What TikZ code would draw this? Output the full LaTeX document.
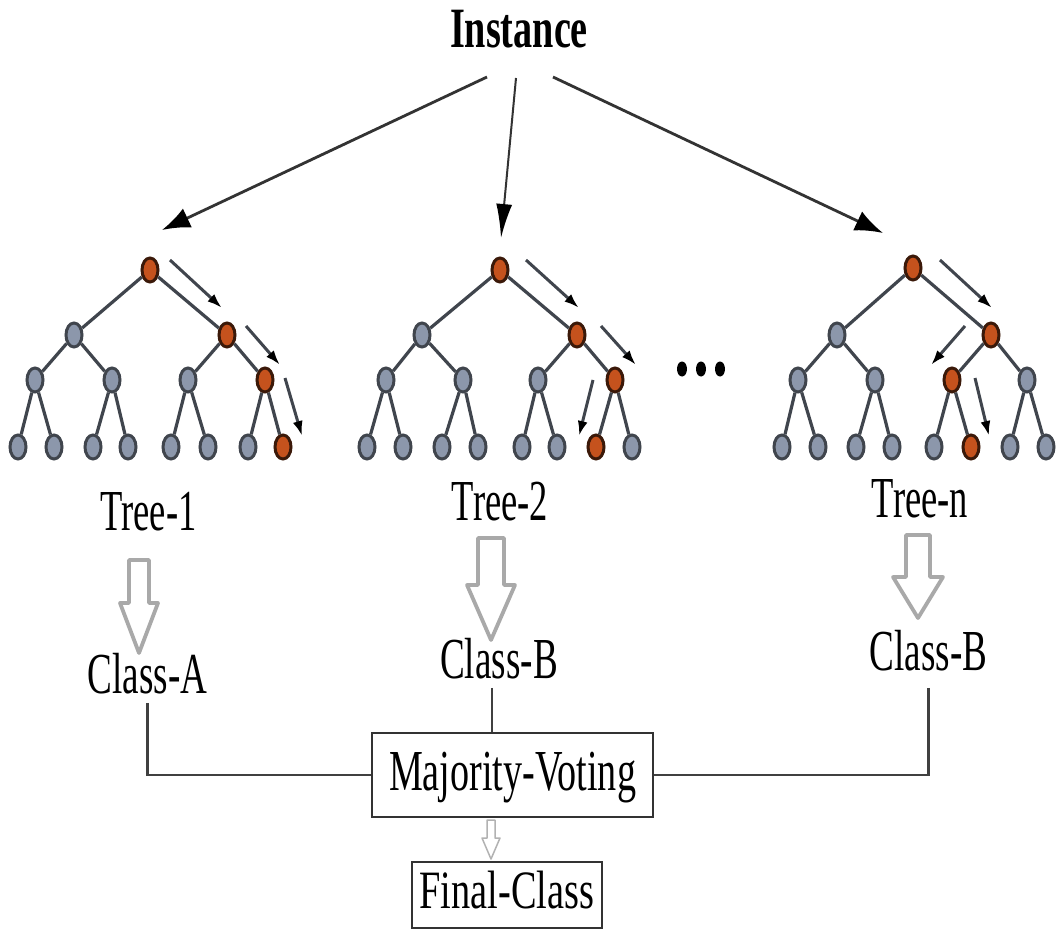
\documentclass[tikz,border=0pt]{standalone}
\usepackage{fontspec}
\setmainfont{Liberation Serif}
\usetikzlibrary{shapes.geometric,arrows.meta,calc}
\definecolor{nodeblue}{HTML}{8C97AB}
\definecolor{nodeorange}{HTML}{C5521D}
\definecolor{edgegray}{HTML}{40454D}
\definecolor{hollowgray}{HTML}{A9A9A9}
\newcommand\sqz[2][0.64]{\scalebox{#1}[1]{#2}}
\newcommand\mktree[2]{%
  \foreach \i/\x/\y/\st in {#2} {\node[\st] (#1-\i) at (\x,\y) {};}
  \foreach \p/\c in {1/2,1/3,2/4,2/5,3/6,3/7,4/8,4/9,5/10,5/11,6/12,6/13,7/14,7/15}
    {\draw[tedge] (#1-\p) -- (#1-\c);}
}
\newcommand\hollowarrow[7][hollowline]{%
  \draw[#1] (#2-#6,#3) -- (#2+#6,#3) -- (#2+#6,#4) -- (#2+#7,#4) -- (#2,#5)
    -- (#2-#7,#4) -- (#2-#6,#4) -- cycle;
}
\begin{document}
\begin{tikzpicture}[x=1pt,y=-1pt,
  tnode/.style={ellipse, minimum width=16pt, minimum height=24pt, inner sep=0pt,
    line width=3pt, draw=edgegray, fill=nodeblue},
  onode/.style={tnode, fill=nodeorange, draw=black!70!nodeorange},
  tedge/.style={line width=3.2pt, draw=edgegray},
  walk/.style={line width=3pt, draw=edgegray, -{Latex[length=15pt,width=10pt,color=black]}},
  bigarrow/.style={line width=2.8pt, draw=black!80, -{Latex[length=28pt,width=21pt,color=black]}},
  midarrow/.style={line width=2pt, draw=black!80, -{Latex[length=34pt,width=16pt,color=black]}},
  lbl/.style={font=\fontsize{58}{60}\selectfont, inner sep=0pt, anchor=base},
  box/.style={draw=black!80, line width=2.6pt, fill=white, inner sep=0pt},
  conn/.style={line width=2.2pt, draw=black!75},
  hollowline/.style={line width=3.8pt, draw=hollowgray, fill=white, line join=round},
  thinhollow/.style={line width=1.5pt, draw=black!30, fill=white, line join=round},
  dot/.style={ellipse, fill=black, minimum width=10pt, minimum height=15pt, inner sep=0pt}
]
\fill[white] (0,0) rectangle (1063,936);
\useasboundingbox (0,0) rectangle (1063,936);

% Instance
\node[font=\bfseries\fontsize{57}{60}\selectfont, inner sep=0pt, anchor=base] (inst) at (519,48) {\sqz[0.67]{Instance}};
\coordinate (i1) at (487,77);
\coordinate (i2) at (516,78);
\coordinate (i3) at (553,77);
\coordinate (r1) at (162,230);
\coordinate (r2) at (501,238);
\coordinate (r3) at (883,233);
\draw[bigarrow] (i1) -- (r1);
\draw[midarrow] (i2) -- (r2);
\draw[bigarrow] (i3) -- (r3);

% Trees
\mktree{ta}{1/150/270/onode, 2/74/335/tnode, 3/227/335/onode, 4/35/380/tnode, 5/112/380/tnode,
  6/188/380/tnode, 7/265/380/onode, 8/18/447/tnode, 9/54/447/tnode, 10/93/447/tnode,
  11/128/447/tnode, 12/171/447/tnode, 13/208/447/tnode, 14/248/447/tnode, 15/283/447/onode}
\mktree{tb}{1/500/270/onode, 2/422/335/tnode, 3/577/335/onode, 4/386/380/tnode, 5/463/380/tnode,
  6/538/380/tnode, 7/615/380/onode, 8/367/447/tnode, 9/403/447/tnode, 10/442/447/tnode,
  11/478/447/tnode, 12/522/447/tnode, 13/557/447/tnode, 14/596/447/onode, 15/632/447/tnode}
\mktree{tn}{1/913/268/onode, 2/837/335/tnode, 3/991/335/onode, 4/798/380/tnode, 5/875/380/tnode,
  6/952/380/onode, 7/1027/380/tnode, 8/782/447/tnode, 9/818/447/tnode, 10/856/447/tnode,
  11/892/447/tnode, 12/934/447/tnode, 13/971/447/onode, 14/1010/447/tnode, 15/1046/447/tnode}

% walk arrows
\draw[walk] (170,260) -- (222,308);
\draw[walk] (246,326) -- (280,365);
\draw[walk] (285,378) -- (302,436);
\draw[walk] (526,260) -- (579,308);
\draw[walk] (601,326) -- (636,365);
\draw[walk] (593,380) -- (579,436);
\draw[walk] (940,260) -- (992,308);
\draw[walk] (965,326) -- (931,365);
\draw[walk] (975,378) -- (989,436);

% dots
\node[dot] (d1) at (682,369) {};
\node[dot] (d2) at (701,369) {};
\node[dot] (d3) at (720,369) {};

% tree labels
\node[lbl] (tree1) at (148.5,530) {\sqz[0.63]{Tree-1}};
\node[lbl] (tree2) at (500,520) {\sqz[0.63]{Tree-2}};
\node[lbl] (treen) at (920,517) {\sqz[0.63]{Tree-n}};

% hollow arrows
\hollowarrow{139}{560}{603}{653}{10}{19}
\hollowarrow{491}{538}{585}{640}{13}{24}
\hollowarrow{918}{535}{577}{618}{12}{25}

% class labels
\node[lbl] (classA) at (147.5,693) {\sqz{Class-A}};
\node[lbl] (classB) at (499,678) {\sqz{Class-B}};
\node[lbl] (classBn) at (928.5,670) {\sqz{Class-B}};

% majority voting
\node[box, font=\fontsize{58}{60}\selectfont, minimum width=281pt, minimum height=84pt,
  text height=40pt, text depth=10pt] (mv) at (512.5,775) {\sqz[0.657]{Majority-Voting}};
\draw[conn] ([yshift=-9pt]classA.south) |- (mv.west);
\draw[conn] ([xshift=-7pt,yshift=-9pt]classB.south) -- ([xshift=-7pt]classB.south |- mv.north);
\draw[conn] ([yshift=-17pt]classBn.south) |- (mv.east);

% final class
\node[box, font=\fontsize{54}{56}\selectfont, minimum width=190pt, minimum height=66pt,
  text height=32pt, text depth=6pt] (fc) at (507,895) {\sqz[0.71]{Final-Class}};
\hollowarrow[thinhollow]{491}{820}{838}{859}{4}{9}
\end{tikzpicture}
\end{document}
